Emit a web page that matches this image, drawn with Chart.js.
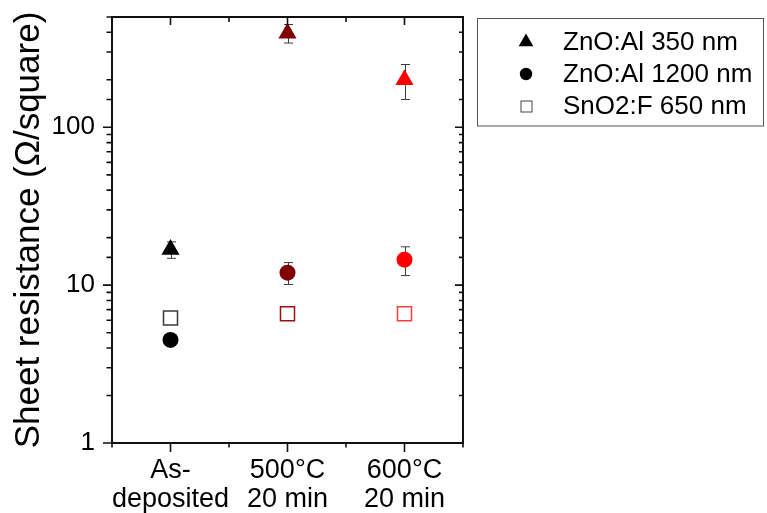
<!DOCTYPE html>
<html>
<head>
<meta charset="utf-8">
<script src="https://cdn.jsdelivr.net/npm/chart.js@4.4.1/dist/chart.umd.min.js"></script>
<style>
  html, body { margin: 0; padding: 0; background: #fff; }
  #wrap { width: 767px; height: 513px; }
</style>
</head>
<body>
<div id="wrap"><canvas id="c" width="767" height="513"></canvas></div>
<script>
// Annealing steps (x categories) and their positions on the linear x axis
const categories = [['As-', 'deposited'], ['500°C', '20 min'], ['600°C', '20 min']];
const catPositions = [1, 2, 3];

// Sheet resistance (Ohm/square) with error bars
const seriesLabels = ['ZnO:Al 350 nm', 'ZnO:Al 1200 nm', 'SnO2:F 650 nm'];
const zno350 = [16.8, 395, 200];
const zno350Err = [2, 53, 50];
const zno1200 = [4.5, 12, 14.5];
const zno1200Err = [0.3, 1.9, 3];
const sno2 = [6.2, 6.6, 6.6];
const sno2Err = [0, 0, 0];

// Labelled decades on the log axis
const yTickLabels = [1, 10, 100];

// One colour per annealing step
const stepColors = ['#000000', '#800000', '#ff0000'];
const squareEdge = ['#3a3a3a', '#9a1010', '#ff3b3b'];

const FONT = '"Liberation Sans", Arial, Helvetica, sans-serif';
Chart.defaults.font.family = FONT;
Chart.defaults.color = '#000';

function points(vals) {
  return vals.map((v, i) => ({ x: catPositions[i], y: v }));
}
function isDecade(v) {
  const l = Math.log10(v);
  return Math.abs(l - Math.round(l)) < 1e-9;
}

// Frame, Origin-style ticks, error bars and boxed legend
const framePlugin = {
  id: 'framePlugin',
  beforeDatasetsDraw(chart) {
    const { ctx, scales: { x, y } } = chart;
    ctx.save();
    ctx.strokeStyle = '#3c3c3c';
    ctx.lineWidth = 1;
    chart.data.datasets.forEach(ds => {
      ds.data.forEach((p, i) => {
        const e = ds.err[i];
        if (!e) return;
        const px = Math.round(x.getPixelForValue(p.x)) + 0.5;
        const top = y.getPixelForValue(p.y + e);
        const bot = y.getPixelForValue(p.y - e);
        ctx.beginPath();
        ctx.moveTo(px, top); ctx.lineTo(px, bot);
        ctx.moveTo(px - 4.5, top); ctx.lineTo(px + 4.5, top);
        ctx.moveTo(px - 4.5, bot); ctx.lineTo(px + 4.5, bot);
        ctx.stroke();
      });
    });
    ctx.restore();
  },
  afterDraw(chart) {
    const { ctx, chartArea: a, scales: { x, y } } = chart;
    ctx.save();
    ctx.strokeStyle = '#111';
    ctx.lineWidth = 1.6;
    ctx.beginPath();
    y.ticks.forEach(t => {
      const py = y.getPixelForValue(t.value);
      const major = isDecade(t.value);
      ctx.moveTo(a.left - (major ? 9 : 5.5), py); ctx.lineTo(a.left, py);
      ctx.moveTo(a.right, py); ctx.lineTo(a.right - (major ? 8 : 4), py);
    });
    x.ticks.forEach(t => {
      const px = x.getPixelForValue(t.value);
      const major = Number.isInteger(t.value);
      ctx.moveTo(px, a.bottom); ctx.lineTo(px, a.bottom + (major ? 9 : 4.5));
      ctx.moveTo(px, a.top); ctx.lineTo(px, a.top + (major ? 8 : 5));
    });
    ctx.stroke();
    ctx.lineWidth = 2;
    ctx.strokeRect(a.left, a.top, a.right - a.left, a.bottom - a.top);

    // legend box
    ctx.strokeStyle = '#555';
    ctx.lineWidth = 1;
    ctx.strokeRect(477.5, 18.5, 286, 107.5);
    const rows = [42, 74, 106];
    const mx = 526;
    ctx.fillStyle = '#000';
    // triangle
    const r = 8.5;
    ctx.beginPath();
    ctx.moveTo(mx, rows[0] - r);
    ctx.lineTo(mx + r * Math.sin(2 * Math.PI / 3), rows[0] + r / 2);
    ctx.lineTo(mx - r * Math.sin(2 * Math.PI / 3), rows[0] + r / 2);
    ctx.closePath();
    ctx.fill();
    // circle
    ctx.beginPath();
    ctx.arc(mx, rows[1], 6.2, 0, Math.PI * 2);
    ctx.fill();
    // open square
    ctx.strokeStyle = '#444';
    ctx.strokeRect(mx - 5.5 + 0.5, rows[2] - 5.5 + 0.5, 11, 11);
    ctx.font = '26px ' + FONT;
    ctx.textBaseline = 'middle';
    ctx.textAlign = 'left';
    seriesLabels.forEach((s, i) => ctx.fillText(s, 563, rows[i] + 1));
    ctx.restore();
  }
};

new Chart(document.getElementById('c'), {
  type: 'scatter',
  data: {
    datasets: [
      {
        label: seriesLabels[0], data: points(zno350), err: zno350Err,
        pointStyle: 'triangle', pointRadius: 10.5,
        pointBackgroundColor: stepColors, pointBorderColor: stepColors, pointBorderWidth: 0
      },
      {
        label: seriesLabels[1], data: points(zno1200), err: zno1200Err,
        pointStyle: 'circle', pointRadius: 8,
        pointBackgroundColor: stepColors, pointBorderColor: stepColors, pointBorderWidth: 0
      },
      {
        label: seriesLabels[2], data: points(sno2), err: sno2Err,
        pointStyle: 'rect', pointRadius: 9.9,
        pointBackgroundColor: 'rgba(0,0,0,0)', pointBorderColor: squareEdge, pointBorderWidth: 1.5
      }
    ]
  },
  options: {
    responsive: false,
    animation: false,
    events: [],
    layout: { padding: { left: 0, top: 17, right: 304, bottom: 0 } },
    plugins: { legend: { display: false }, tooltip: { enabled: false } },
    scales: {
      x: {
        type: 'linear', min: 0.5, max: 3.5,
        grid: { display: false, drawTicks: false },
        border: { display: false },
        ticks: {
          stepSize: 0.5, autoSkip: false, maxRotation: 0, minRotation: 0,
          padding: 14, color: '#000',
          font: { size: 27, lineHeight: 1.04 },
          callback: v => {
            const i = catPositions.indexOf(v);
            return i >= 0 ? categories[i] : '';
          }
        },
        afterFit: s => { s.height = 70; }
      },
      y: {
        type: 'logarithmic', min: 1, max: 500,
        grid: { display: false, drawTicks: false },
        border: { display: false },
        ticks: {
          autoSkip: false, padding: 17, color: '#000',
          font: { size: 26 },
          callback: v => (yTickLabels.some(t => Math.abs(t - v) < 1e-9) ? String(v) : '')
        },
        title: {
          display: true, text: 'Sheet resistance (Ω/square)', color: '#000',
          font: { size: 35 }, padding: { top: 8, bottom: 0 }
        },
        afterFit: s => { s.width = 112; s.paddingTop = 0; s.paddingBottom = 0; }
      }
    }
  },
  plugins: [framePlugin]
});
</script>
</body>
</html>
